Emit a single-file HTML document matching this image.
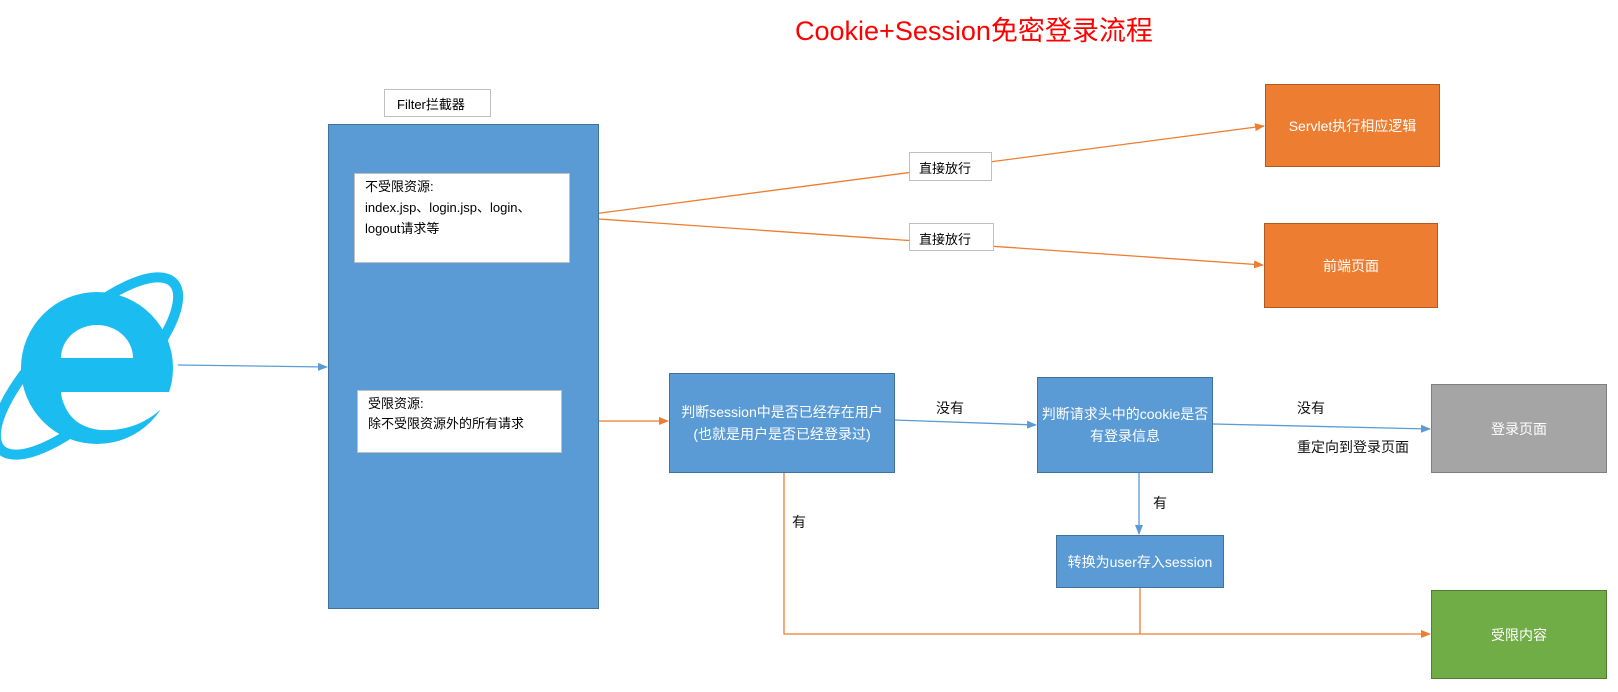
<!DOCTYPE html>
<html><head><meta charset="utf-8"><style>
html,body{margin:0;padding:0;background:#fff;}
body{width:1618px;height:692px;position:relative;overflow:hidden;font-family:"Liberation Sans","Noto Sans CJK SC",sans-serif;}
.b{position:absolute;box-sizing:border-box;}
.t{position:absolute;font-size:14px;color:#111;white-space:nowrap;}
.c{display:flex;align-items:center;justify-content:center;text-align:center;color:#fff;font-size:14px;line-height:22px;}
</style></head><body>
<svg width="1618" height="692" style="position:absolute;left:0;top:0">
<defs>
<marker id="ao" markerWidth="10" markerHeight="10" refX="9" refY="5" orient="auto" markerUnits="userSpaceOnUse"><path d="M0,1 L10,5 L0,9z" fill="#ed7d31"/></marker>
<marker id="ab" markerWidth="10" markerHeight="10" refX="9" refY="5" orient="auto" markerUnits="userSpaceOnUse"><path d="M0,1 L10,5 L0,9z" fill="#5b9bd5"/></marker>
</defs>
<!-- IE logo -->
<ellipse cx="87" cy="366" rx="120" ry="42" transform="rotate(-44 87 366)" fill="none" stroke="#1bbcf0" stroke-width="10"/>
<circle cx="97" cy="368" r="76" fill="#1bbcf0"/>
<path d="M61,358 A36,33 0 0 1 133,358 Z" fill="#fff"/>
<path d="M61,392 L180,392 L180,410 L160,410 Q135,432 100,430 Q66,426 61,392 Z" fill="#fff"/>
<path d="M61,392 Q63,420 100,422 Q128,422 150,410 L180,410 L180,392 Z" fill="#fff"/>
<line x1="178" y1="365" x2="327" y2="367" stroke="#5b9bd5" stroke-width="1.3" marker-end="url(#ab)"/>
<line x1="570" y1="217" x2="1264" y2="126" stroke="#ed7d31" stroke-width="1.3" marker-end="url(#ao)"/>
<line x1="570" y1="217" x2="1263" y2="265" stroke="#ed7d31" stroke-width="1.3" marker-end="url(#ao)"/>
<line x1="562" y1="421" x2="668" y2="421" stroke="#ed7d31" stroke-width="1.3" marker-end="url(#ao)"/>
<line x1="894" y1="420" x2="1036" y2="425" stroke="#5b9bd5" stroke-width="1.3" marker-end="url(#ab)"/>
<line x1="1213" y1="424" x2="1430" y2="429" stroke="#5b9bd5" stroke-width="1.3" marker-end="url(#ab)"/>
<line x1="1139" y1="473" x2="1139" y2="534" stroke="#5b9bd5" stroke-width="1.3" marker-end="url(#ab)"/>
<polyline points="784,472 784,634 1430,634" fill="none" stroke="#ed7d31" stroke-width="1.3" marker-end="url(#ao)"/>
<line x1="1140" y1="588" x2="1140" y2="634" stroke="#ed7d31" stroke-width="1.3"/>
</svg>
<div class="t" style="left:795px;top:9px;font-size:27px;color:#ff0000;">Cookie+Session免密登录流程</div>
<div class="b" style="left:384px;top:89px;width:107px;height:28px;border:1px solid #bfbfbf;font-size:13px;padding:4px 0 0 12px;">Filter拦截器</div>
<div class="b" style="left:328px;top:124px;width:271px;height:485px;background:#5b9bd5;border:1px solid #41719c;"></div>
<div class="b" style="left:354px;top:173px;width:216px;height:90px;background:#fff;border:1px solid #bfbfbf;font-size:13px;line-height:21px;padding:2px 0 0 10px;">不受限资源:<br>index.jsp、login.jsp、login、<br>logout请求等</div>
<div class="b" style="left:357px;top:390px;width:205px;height:63px;background:#fff;border:1px solid #bfbfbf;font-size:13px;line-height:20px;padding:3px 0 0 10px;">受限资源:<br>除不受限资源外的所有请求</div>
<div class="b" style="left:909px;top:152px;width:83px;height:29px;border:1px solid #bfbfbf;background:#fff;font-size:13px;padding:5px 0 0 9px;">直接放行</div>
<div class="b" style="left:909px;top:223px;width:85px;height:28px;border:1px solid #bfbfbf;background:#fff;font-size:13px;padding:5px 0 0 9px;">直接放行</div>
<div class="b c" style="left:1265px;top:84px;width:175px;height:83px;background:#ed7d31;border:1px solid #ae5a21;">Servlet执行相应逻辑</div>
<div class="b c" style="left:1264px;top:223px;width:174px;height:85px;background:#ed7d31;border:1px solid #ae5a21;">前端页面</div>
<div class="b c" style="left:669px;top:373px;width:226px;height:100px;background:#5b9bd5;border:1px solid #41719c;">判断session中是否已经存在用户<br>(也就是用户是否已经登录过)</div>
<div class="b c" style="left:1037px;top:377px;width:176px;height:96px;background:#5b9bd5;border:1px solid #41719c;">判断请求头中的cookie是否<br>有登录信息</div>
<div class="b c" style="left:1056px;top:535px;width:168px;height:53px;background:#5b9bd5;border:1px solid #41719c;">转换为user存入session</div>
<div class="b c" style="left:1431px;top:384px;width:176px;height:89px;background:#a5a5a5;border:1px solid #7f7f7f;">登录页面</div>
<div class="b c" style="left:1431px;top:590px;width:176px;height:89px;background:#70ad47;border:1px solid #507e32;">受限内容</div>
<div class="t" style="left:936px;top:398px;">没有</div>
<div class="t" style="left:1297px;top:398px;">没有</div>
<div class="t" style="left:1297px;top:437px;">重定向到登录页面</div>
<div class="t" style="left:1153px;top:493px;">有</div>
<div class="t" style="left:792px;top:512px;">有</div>
</body></html>
